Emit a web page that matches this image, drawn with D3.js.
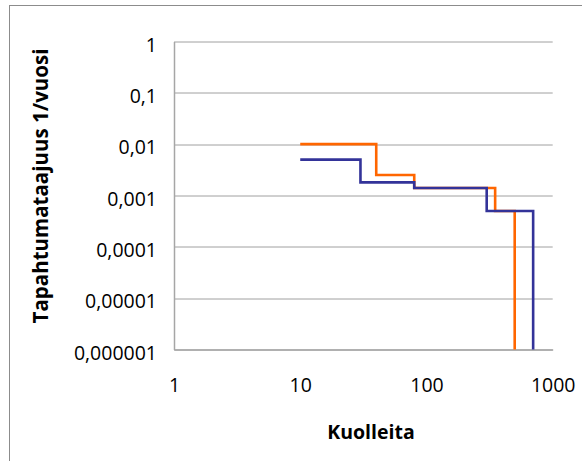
<!DOCTYPE html>
<html>
<head>
<meta charset="utf-8">
<script src="https://cdnjs.cloudflare.com/ajax/libs/d3/7.8.5/d3.min.js"></script>
<style>
  body { margin: 0; background: #fff; }
  svg { display: block; font-family: "Open Sans", sans-serif; }
</style>
</head>
<body>
<div id="chart"></div>
<script>
// data
var orangeX = [10, 40, 80, 350, 500];
var orangeY = [0.01, 0.0025, 0.0014, 0.0005, 0.000001];
var blueX = [10, 30, 80, 300, 700];
var blueY = [0.005, 0.0018, 0.0014, 0.0005, 0.000001];
var xTicks = [1, 10, 100, 1000];
var yTicks = [1, 0.1, 0.01, 0.001, 0.0001, 0.00001, 0.000001];
var yTickLabels = ["1", "0,1", "0,01", "0,001", "0,0001", "0,00001", "0,000001"];

var W = 582, H = 461;
var margin = {top: 41.5, right: 29.3, bottom: 111.5, left: 174};
var width = W - margin.left - margin.right,
    height = H - margin.top - margin.bottom;

var svg = d3.select("#chart").append("svg")
  .attr("width", W)
  .attr("height", H);

// outer chart border (only top and left edges are visible)
svg.append("rect")
  .attr("x", 9.5).attr("y", 5.5)
  .attr("width", 700).attr("height", 600)
  .attr("fill", "none")
  .attr("stroke", "#8c8c8c");

var g = svg.append("g")
  .attr("transform", "translate(" + margin.left + "," + margin.top + ")");

var x = d3.scaleLog().domain([1, 1000]).range([0, width]);
var y = d3.scaleLog().domain([0.000001, 1]).range([height, 0]);

// horizontal gridlines
g.selectAll(".grid")
  .data(yTicks)
  .enter().append("line")
  .attr("class", "grid")
  .attr("x1", 0).attr("x2", width)
  .attr("y1", function(d) { return Math.round(y(d)) + 0.5; })
  .attr("y2", function(d) { return Math.round(y(d)) + 0.5; })
  .attr("stroke", "#a0a0a0")
  .attr("stroke-width", 1);

// left axis
var yAxis = g.append("g")
  .call(d3.axisLeft(y).tickValues(yTicks).tickSize(0).tickPadding(17)
    .tickFormat(function(d, i) { return yTickLabels[i]; }));
yAxis.select(".domain").attr("stroke", "#a6a6a6").attr("stroke-width", 1.5);
yAxis.selectAll("text")
  .attr("font-size", "19.5px")
  .attr("fill", "#000")
  .attr("dy", "0.5em")
  .style("font-family", "'Open Sans', sans-serif");

// bottom axis
var xAxis = g.append("g")
  .attr("transform", "translate(0," + height + ")")
  .call(d3.axisBottom(x).tickValues(xTicks).tickSize(0).tickPadding(29)
    .tickFormat(d3.format("d")));
xAxis.select(".domain").attr("stroke", "#a6a6a6").attr("stroke-width", 1.5);
xAxis.selectAll("text")
  .attr("font-size", "19.5px")
  .attr("fill", "#000")
  .style("font-family", "'Open Sans', sans-serif");

// step lines
var line = d3.line()
  .x(function(d) { return x(d[0]); })
  .y(function(d) { return y(d[1]); })
  .curve(d3.curveStepAfter);

var series = [
  {name: "orange", color: "#ff6600", pts: d3.zip(orangeX, orangeY)},
  {name: "blue", color: "#333399", pts: d3.zip(blueX, blueY)}
];

g.selectAll(".line")
  .data(series)
  .enter().append("path")
  .attr("class", "line")
  .attr("fill", "none")
  .attr("stroke", function(d) { return d.color; })
  .attr("stroke-width", 2.6)
  .attr("d", function(d) { return line(d.pts); });

// axis titles
svg.append("text")
  .attr("x", 371)
  .attr("y", 439)
  .attr("text-anchor", "middle")
  .attr("font-size", "19.5px")
  .attr("font-weight", "bold")
  .text("Kuolleita");

svg.append("text")
  .attr("transform", "translate(48,186) rotate(-90)")
  .attr("text-anchor", "middle")
  .attr("font-size", "20.5px")
  .attr("font-weight", "bold")
  .text("Tapahtumataajuus 1/vuosi");
</script>
</body>
</html>
